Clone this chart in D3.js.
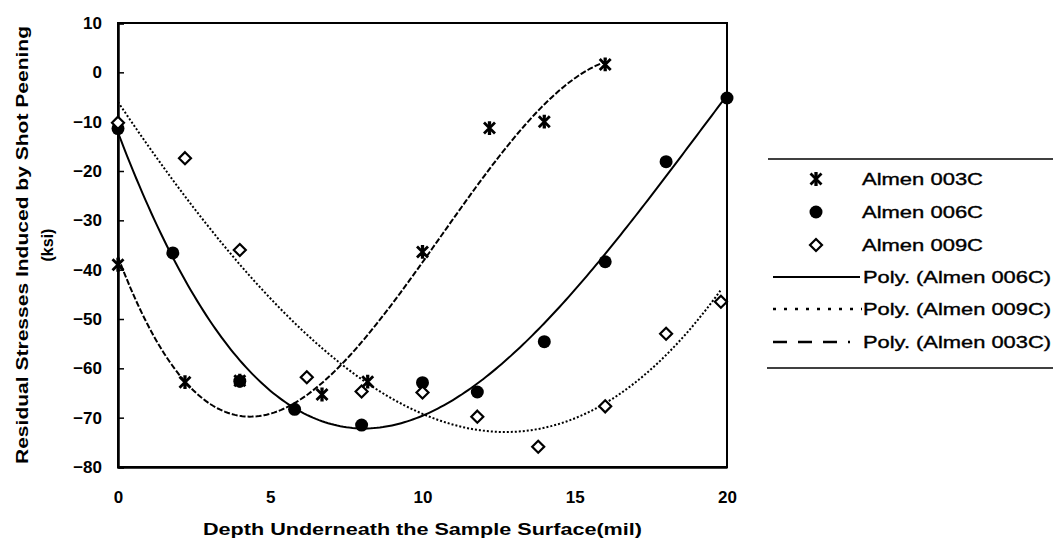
<!DOCTYPE html>
<html>
<head>
<meta charset="utf-8">
<script src="https://cdn.jsdelivr.net/npm/d3@7"></script>
<style>
  html, body { margin: 0; padding: 0; background: #fff; }
  svg { display: block; font-family: "Liberation Sans", Arial, Helvetica, sans-serif; }
</style>
</head>
<body>
<svg id="chart" width="1053" height="548"></svg>
<script>
// Measured residual stress (ksi) vs. depth below the peened surface (mil)
const depth003 = [0, 2.2, 4, 6.7, 8.2, 10, 12.2, 14, 16];
const stress003 = [-39, -62.8, -62.5, -65.3, -62.7, -36.4, -11.3, -10, 1.6];

const depth006 = [0, 1.8, 4, 5.8, 8, 10, 11.8, 14, 16, 18, 20];
const stress006 = [-11.4, -36.6, -62.6, -68.3, -71.5, -62.9, -64.8, -54.6, -38.4, -18.1, -5.2];

const depth009 = [0, 2.2, 4, 6.2, 8, 10, 11.8, 13.8, 16, 18, 19.8];
const stress009 = [-10.2, -17.4, -36, -61.8, -64.7, -64.9, -69.8, -75.9, -67.7, -53, -46.5];

const xTicks = [0, 5, 10, 15, 20];
const yTicks = [10, 0, -10, -20, -30, -40, -50, -60, -70, -80];

const legendLabels = ["Almen 003C", "Almen 006C", "Almen 009C",
  "Poly. (Almen 006C)", "Poly. (Almen 009C)", "Poly. (Almen 003C)"];

const svg = d3.select("#chart");
const plot = { left: 118, right: 727, top: 23, bottom: 467 };

const x = d3.scaleLinear().domain([0, 20]).range([plot.left, plot.right]);
const y = d3.scaleLinear().domain([-80, 10]).range([plot.bottom, plot.top]);

// Least-squares polynomial trendline (cubic), solved from the normal equations
function polyFit(xs, ys, order) {
  const n = order + 1;
  const A = Array.from({ length: n }, () => new Array(n + 1).fill(0));
  for (let k = 0; k < xs.length; k++) {
    for (let i = 0; i < n; i++) {
      for (let j = 0; j < n; j++) A[i][j] += Math.pow(xs[k], i + j);
      A[i][n] += ys[k] * Math.pow(xs[k], i);
    }
  }
  for (let c = 0; c < n; c++) {
    let p = c;
    for (let r = c + 1; r < n; r++) if (Math.abs(A[r][c]) > Math.abs(A[p][c])) p = r;
    [A[c], A[p]] = [A[p], A[c]];
    for (let r = 0; r < n; r++) {
      if (r === c) continue;
      const f = A[r][c] / A[c][c];
      for (let j = c; j <= n; j++) A[r][j] -= f * A[c][j];
    }
  }
  const coef = A.map((row, i) => row[n] / row[i]);
  return t => coef.reduce((s, a, i) => s + a * Math.pow(t, i), 0);
}

function trendPoints(xs, ys) {
  const f = polyFit(xs, ys, 3);
  const lo = d3.min(xs), hi = d3.max(xs);
  return d3.range(0, 201).map(i => {
    const t = lo + (hi - lo) * i / 200;
    return [t, f(t)];
  });
}

const line = d3.line().x(d => x(d[0])).y(d => y(d[1])).curve(d3.curveLinear);

// Frame of the plotting area
svg.append("rect")
  .attr("x", plot.left).attr("y", plot.top)
  .attr("width", plot.right - plot.left).attr("height", plot.bottom - plot.top)
  .attr("fill", "none").attr("stroke", "#000").attr("stroke-width", 2);

// Y axis with inward ticks
const yAxis = svg.append("g")
  .attr("transform", `translate(${plot.left},0)`)
  .call(d3.axisLeft(y).tickValues(yTicks).tickSize(-6).tickPadding(16).tickFormat(d3.format("d")));
yAxis.select(".domain").attr("stroke", "#000").attr("stroke-width", 2.5);
yAxis.selectAll(".tick line").attr("stroke", "#000").attr("stroke-width", 1.5);
yAxis.selectAll(".tick text")
  .attr("font-size", 17).attr("font-weight", "bold").attr("fill", "#000")
  .attr("font-family", "Liberation Sans, Arial, sans-serif");

// X axis, labels only
const xAxis = svg.append("g")
  .attr("transform", `translate(0,${plot.bottom})`)
  .call(d3.axisBottom(x).tickValues(xTicks).tickSize(0).tickPadding(24).tickFormat(d3.format("d")));
xAxis.select(".domain").attr("stroke", "#000").attr("stroke-width", 2.5);
xAxis.selectAll(".tick text")
  .attr("font-size", 17).attr("font-weight", "bold").attr("fill", "#000")
  .attr("font-family", "Liberation Sans, Arial, sans-serif");

// Axis titles
svg.append("text")
  .attr("x", (plot.left + plot.right) / 2).attr("y", 535)
  .attr("text-anchor", "middle").attr("font-size", 16).attr("font-weight", "bold")
  .attr("textLength", 439).attr("lengthAdjust", "spacingAndGlyphs")
  .text("Depth Underneath the Sample Surface(mil)");

const yTitle = svg.append("g")
  .attr("transform", `translate(0,${(plot.top + plot.bottom) / 2}) rotate(-90)`);
yTitle.append("text")
  .attr("x", 0).attr("y", 28)
  .attr("text-anchor", "middle").attr("font-size", 16).attr("font-weight", "bold")
  .attr("textLength", 438).attr("lengthAdjust", "spacingAndGlyphs")
  .text("Residual Stresses Induced by Shot Peening");
yTitle.append("text")
  .attr("x", 0).attr("y", 53)
  .attr("text-anchor", "middle").attr("font-size", 16).attr("font-weight", "bold")
  .text("(ksi)");

// Trendlines
svg.append("clipPath").attr("id", "plotClip").append("rect")
  .attr("x", plot.left).attr("y", plot.top)
  .attr("width", plot.right - plot.left).attr("height", plot.bottom - plot.top);

const trends = svg.append("g").attr("clip-path", "url(#plotClip)");
trends.append("path")
  .attr("d", line(trendPoints(depth006, stress006)))
  .attr("fill", "none").attr("stroke", "#000").attr("stroke-width", 2);
trends.append("path")
  .attr("d", line(trendPoints(depth009, stress009)))
  .attr("fill", "none").attr("stroke", "#000").attr("stroke-width", 2)
  .attr("stroke-dasharray", "2,2");
trends.append("path")
  .attr("d", line(trendPoints(depth003, stress003)))
  .attr("fill", "none").attr("stroke", "#000").attr("stroke-width", 2)
  .attr("stroke-dasharray", "6,2");

// Marker shapes
function starPath(s) {
  return `M${-s},${-s}L${s},${s}M${-s},${s}L${s},${-s}M0,${-s}L0,${s}` +
    `M${-s * 0.3},${-s}L${s * 0.3},${-s}M${-s * 0.3},${s}L${s * 0.3},${s}`;
}
function drawStar(g, cx, cy) {
  g.append("path").attr("transform", `translate(${cx},${cy})`)
    .attr("d", starPath(5.5)).attr("fill", "none").attr("stroke", "#000").attr("stroke-width", 2.8);
}
function drawCircle(g, cx, cy) {
  g.append("circle").attr("cx", cx).attr("cy", cy).attr("r", 6.5).attr("fill", "#000");
}
function drawDiamond(g, cx, cy) {
  const s = 6;
  g.append("path").attr("transform", `translate(${cx},${cy})`)
    .attr("d", `M0,${-s}L${s},0L0,${s}L${-s},0Z`)
    .attr("fill", "#fff").attr("stroke", "#000").attr("stroke-width", 2.2);
}

const marks = svg.append("g");
depth006.forEach((d, i) => drawCircle(marks, x(d), y(stress006[i])));
depth009.forEach((d, i) => drawDiamond(marks, x(d), y(stress009[i])));
depth003.forEach((d, i) => drawStar(marks, x(d), y(stress003[i])));

// Legend
const legend = svg.append("g");
legend.append("line").attr("x1", 768).attr("x2", 1053).attr("y1", 159).attr("y2", 159)
  .attr("stroke", "#000").attr("stroke-width", 1.5);
legend.append("line").attr("x1", 767).attr("x2", 1053).attr("y1", 368).attr("y2", 368)
  .attr("stroke", "#000").attr("stroke-width", 1.5);

const rowY = [179, 212, 245, 277, 309, 342];
const textLen = [121, 121, 121, 188, 188, 188];
const textX = [862, 862, 862, 863, 863, 863];
legendLabels.forEach((lab, i) => {
  legend.append("text")
    .attr("x", textX[i]).attr("y", rowY[i]).attr("dy", "0.36em")
    .attr("font-size", 16).attr("fill", "#000")
    .attr("stroke", "#000").attr("stroke-width", 0.35)
    .attr("textLength", textLen[i]).attr("lengthAdjust", "spacingAndGlyphs")
    .text(lab);
});
drawStar(legend, 816, rowY[0]);
drawCircle(legend, 816, rowY[1]);
drawDiamond(legend, 816, rowY[2]);
legend.append("line").attr("x1", 773).attr("x2", 860).attr("y1", rowY[3]).attr("y2", rowY[3])
  .attr("stroke", "#000").attr("stroke-width", 2);
legend.append("line").attr("x1", 773).attr("x2", 862).attr("y1", rowY[4]).attr("y2", rowY[4])
  .attr("stroke", "#000").attr("stroke-width", 2.5).attr("stroke-dasharray", "3,8");
legend.append("line").attr("x1", 773).attr("x2", 850).attr("y1", rowY[5]).attr("y2", rowY[5])
  .attr("stroke", "#000").attr("stroke-width", 2.5).attr("stroke-dasharray", "14,11");
</script>
</body>
</html>
